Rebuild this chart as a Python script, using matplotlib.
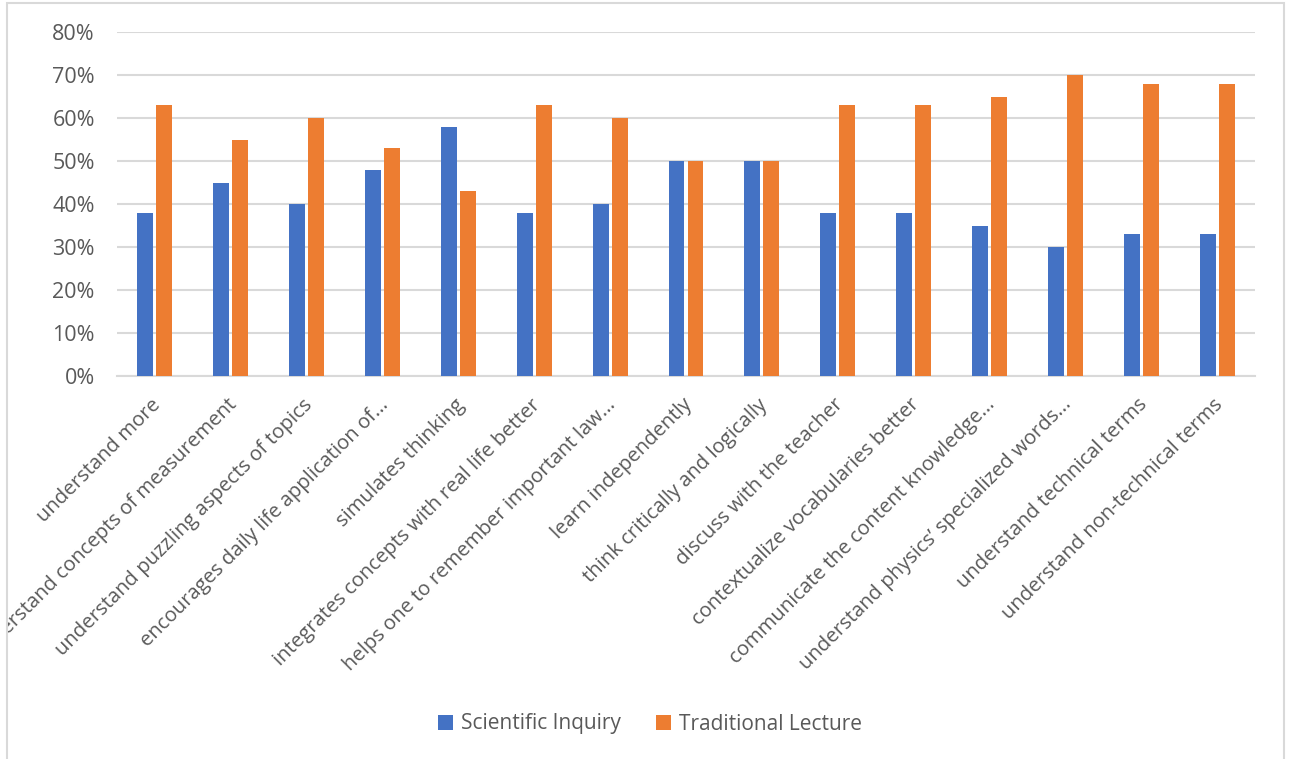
import numpy as np
import matplotlib
matplotlib.use('Agg')
import matplotlib.pyplot as plt
import matplotlib.transforms as mtransforms
from matplotlib.patches import Rectangle
from matplotlib.ticker import PercentFormatter

# Data
categories = [
    'understand more',
    'understand concepts of measurement',
    'understand puzzling aspects of topics',
    'encourages daily life application of...',
    'simulates thinking',
    'integrates concepts with real life better',
    'helps one to remember important law...',
    'learn independently',
    'think critically and logically',
    'discuss with the teacher',
    'contextualize vocabularies better',
    'communicate the content knowledge...',
    'understand physics\u2019 specialized words...',
    'understand technical terms',
    'understand non-technical terms',
]
scientific_inquiry = [38, 45, 40, 48, 58, 38, 40, 50, 50, 38, 38, 35, 30, 33, 33]
traditional_lecture = [63, 55, 60, 53, 43, 63, 60, 50, 50, 63, 63, 65, 70, 68, 68]
series_names = ['Scientific Inquiry', 'Traditional Lecture']

BLUE = '#4472C4'
ORANGE = '#ED7D31'
GRID = '#D9D9D9'
TEXT = '#595959'

plt.rcParams['font.family'] = ['Open Sans', 'DejaVu Sans']

fig = plt.figure(figsize=(12.9, 7.59), dpi=100)
ax = fig.add_axes([117 / 1290, 1 - 376 / 759, (1255 - 117) / 1290, (376 - 32) / 759])

x = np.arange(len(categories))
w = 0.21
ax.bar(x - 0.125, scientific_inquiry, w, color=BLUE, label=series_names[0], zorder=3)
ax.bar(x + 0.125, traditional_lecture, w, color=ORANGE, label=series_names[1], zorder=3)

ax.set_xlim(-0.5, len(categories) - 0.5)
ax.set_ylim(0, 80)
ax.set_yticks(np.arange(0, 81, 10))
ax.yaxis.set_major_formatter(PercentFormatter(decimals=0))
ax.grid(axis='y', color=GRID, linewidth=1.5, zorder=0)
for s in ['top', 'right', 'left']:
    ax.spines[s].set_visible(False)
ax.spines['bottom'].set_color(GRID)
ax.spines['bottom'].set_linewidth(1.5)
ax.tick_params(axis='y', length=0, labelcolor=TEXT, labelsize=15.5, pad=16)
ax.tick_params(axis='x', length=0, labelcolor=TEXT, labelsize=14.6)

ax.set_xticks(x)
ax.set_xticklabels(categories, rotation=45, ha='right', va='center',
                   rotation_mode='anchor')
offset = mtransforms.ScaledTranslation(3 / 100, -21 / 100, fig.dpi_scale_trans)
# chart area is bounded by the frame, long labels get cut at its edge
chart_box = mtransforms.TransformedBbox(
    mtransforms.Bbox([[8 / 1290, 0], [1283 / 1290, 1]]), fig.transFigure)
for lbl in ax.get_xticklabels():
    lbl.set_transform(lbl.get_transform() + offset)
    lbl.set_clip_box(chart_box)
    lbl.set_clip_on(True)

fig.legend(loc='center', bbox_to_anchor=(650 / 1290, 1 - 724 / 759), ncol=2,
           frameon=False, fontsize=15, labelcolor=TEXT, handlelength=0.7,
           handleheight=0.7, handletextpad=0.4, columnspacing=1.7)

fig.patches.append(Rectangle((7 / 1290, -0.05), (1284 - 7) / 1290, 1.05 - 3 / 759,
                             transform=fig.transFigure, fill=False,
                             edgecolor=GRID, linewidth=1.5))

fig.savefig('out.png', dpi=100, facecolor='white')
